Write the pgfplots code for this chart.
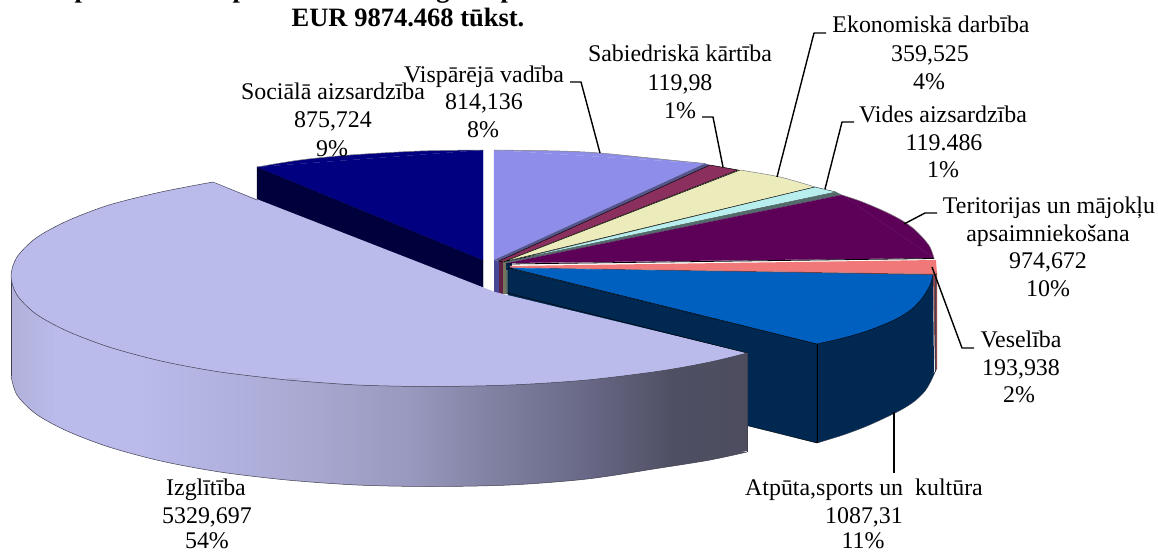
\documentclass[border=0pt]{standalone}
\usepackage{pgfplots}
\usepackage{pgfplotstable}
\usepackage{fontspec}
\setmainfont{Liberation Serif}
\pgfplotsset{compat=1.18}
\definecolor{cLight}{HTML}{BBBBEB}
\definecolor{cPeri}{HTML}{8E8EEA}
\definecolor{cMaroon}{HTML}{8B2F5F}
\definecolor{cCream}{HTML}{EBEBBC}
\definecolor{cCyan}{HTML}{B8EEEE}
\definecolor{cPurple}{HTML}{5C0058}
\definecolor{cSalmon}{HTML}{F07878}
\definecolor{cBlue}{HTML}{0060C0}
\definecolor{cDark}{HTML}{002850}
\definecolor{cNavy}{HTML}{000080}
\definecolor{cNavyS}{HTML}{00003C}
\definecolor{cEdge}{HTML}{404050}
\pgfdeclarehorizontalshading{izgside}{100bp}{
  rgb(0bp)=(.69,.69,.85);
  rgb(25bp)=(.69,.69,.85);
  rgb(28bp)=(.73,.73,.92);
  rgb(34bp)=(.73,.73,.92);
  rgb(39bp)=(.70,.70,.88);
  rgb(45bp)=(.66,.66,.82);
  rgb(52bp)=(.60,.60,.75);
  rgb(58bp)=(.50,.50,.63);
  rgb(64bp)=(.41,.41,.53);
  rgb(70bp)=(.31,.31,.39);
  rgb(75bp)=(.30,.30,.37);
  rgb(100bp)=(.30,.30,.37)}
\pgfplotstableread{
x y
257 167
300 160
350 155
420 151
483 150
}\arcNavy
\pgfplotstableread{
x y
494 150
560 151
600 153
650 158
705 163.5
}\arcPeri
\pgfplotstableread{
x y
740 170
780 177
815 187
}\arcCream
\pgfplotstableread{
x y
842 195
860 201
877 208
890 214
903 221
914 229
923 238
930 247
934 258
}\arcPurple
\pgfplotstableread{
x y
933 275
930 285
923 297
913 308
900 317
885 324
867 331
843 338
817 344
}\arcBlue
\pgfplotstableread{
x y
935 372
931 381
925 391
916 400
906 407
893 414
867 426
843 435
817 443
}\arcAtp
\pgfplotstableread{
x y
213 182
161 192
109 205
67 221
36 238
17 257
11 276
17 295
36 314
67 331
109 347
161 361
220 372
287 380
}\arcIzgA
\pgfplotstableread{
x y
287 380
357 385
430 386.5
510 385
587 380
660 371
710 362
747 353
}\arcIzgB
\pgfplotstableread{
x y
11 376
17 395
36 414
67 431
109 447
161 461
220 472
287 480
357 485
430 486.5
510 485
587 479
660 468
710 460
747 452
}\arcIzgC
\newcommand{\lab}[3]{\node[anchor=base,inner sep=0pt,font=\fontsize{23.9pt}{27.4pt}\selectfont] at (axis cs:#1,#2) {#3};}
\newcommand{\labb}[3]{\node[anchor=base,inner sep=0pt,font=\fontsize{26.5pt}{29pt}\selectfont\bfseries] at (axis cs:#1,#2) {#3};}
\begin{document}
\begin{tikzpicture}[x=1pt,y=1pt]
\useasboundingbox (0,0) rectangle (1158pt,551pt);
\clip (0,0) rectangle (1158pt,551pt);
\begin{axis}[
  at={(0,0)},anchor=south west,
  hide axis,scale only axis,width=1158pt,height=551pt,
  xmin=0,xmax=1158,ymin=0,ymax=551,y dir=reverse,clip=false,no markers,
  every axis plot/.append style={line join=round},
]
% Sociala aizsardziba
\addplot[fill=cNavyS,draw=black,line width=.4pt] coordinates {(257,167)(483,260)(483,290)(257,202)(257,167)};
\addplot[fill=cNavy,draw=none,smooth] table {\arcNavy};
\addplot[fill=cNavy,draw=cNavy,line width=.2pt] coordinates {(257,167)(483,150)(483,260)(257,167)};
\addplot[draw=gray,line width=.5pt,smooth] table {\arcNavy};
% slivers at the centre
\addplot[fill=cNavyS!50!cPeri,draw=none] coordinates {(494,260)(499,261)(499,294)(494,294)};
\addplot[fill=cMaroon!70!black,draw=none] coordinates {(499,261)(503,261)(503,294)(499,294)};
\addplot[fill=cCream!50!black,draw=none] coordinates {(503,261)(506,261)(506,294)(503,294)};
\addplot[fill=cCyan!45!black,draw=none] coordinates {(506,261)(509,261)(509,294)(506,294)};
\addplot[fill=cDark,draw=none] coordinates {(506,263)(512,263)(512,270)(506,270)};
% Visparejaa vadiba
\addplot[fill=cPeri,draw=none,smooth] table {\arcPeri};
\addplot[fill=cPeri,draw=cPeri,line width=.2pt] coordinates {(494,150)(705,163.5)(494,260)(494,150)};
\addplot[draw=gray,line width=.5pt,smooth] table {\arcPeri};
\addplot[fill=cPeri!60!black,draw=none] coordinates {(494,260)(705,163.5)(710,165)(499,261)};
% Sabiedriska kartiba
\addplot[fill=cMaroon,draw=black,line width=.5pt] coordinates {(499,261)(710,165)(738,170)(503,262)(499,261)};
% Ekonomiska
\addplot[fill=cCream,draw=none,smooth] table {\arcCream};
\addplot[fill=cCream,draw=cCream,line width=.2pt] coordinates {(740,170)(815,187)(503,262)(740,170)};
\addplot[draw=black,line width=.5pt] coordinates {(740,170)(503,262)(815,187)};
\addplot[draw=gray,line width=.5pt,smooth] table {\arcCream};
% Vides
\addplot[fill=cCyan,draw=black,line width=.3pt] coordinates {(505,262)(815,187)(836,192)(505,262)};
\addplot[fill=cCyan!45!black,draw=none] coordinates {(505,262)(836,192)(842,195)(508,263)};
% Teritorijas
\addplot[fill=cPurple,draw=none,smooth] table {\arcPurple};
\addplot[fill=cPurple,draw=cPurple,line width=.2pt] coordinates {(842,195)(934,258)(508,263)(842,195)};
\addplot[draw=black,line width=.8pt] coordinates {(508,264)(934,258.5)};
\addplot[draw=gray,line width=.5pt,smooth] table {\arcPurple};
% Veseliba
\addplot[fill=cSalmon,draw=none] coordinates {(510,266)(936,260)(937,274)(510,267.5)};
\addplot[fill=cSalmon!50!black,draw=none] coordinates {(510,267.5)(937,274)(933,276)(510,268)};
% Atputa: side faces
\addplot[fill=cSalmon!60!black,draw=none] coordinates {(933,275)(937,273)(937,369)(935,372)};
\addplot[fill=cDark,draw=black,line width=.4pt] coordinates {(508,268)(817,344)(817,443)(508,366)(508,268)};
\addplot[fill=cDark,draw=none] coordinates {(933,275)(817,344)(817,443)(867,425)(906,406)(934,372)};
\addplot[fill=cDark,draw=none,smooth] table {\arcAtp};
\addplot[draw=cEdge,line width=.4pt,smooth] table {\arcAtp};
\addplot[draw=black,line width=.4pt] coordinates {(817,344)(817,443)};
\addplot[draw=cEdge,line width=.4pt] coordinates {(935,276)(935,372)};
% Atputa: top
\addplot[fill=cBlue,draw=none,smooth] table {\arcBlue};
\addplot[fill=cBlue,draw=cBlue,line width=.2pt] coordinates {(933,275)(817,344)(510,268)(933,275)};
\addplot[draw=black,line width=.5pt] coordinates {(510,268)(817,344)};
\addplot[draw=black,line width=.4pt,smooth] table {\arcBlue};
% Izglitiba: side
\addplot[shading=izgside,draw=none] coordinates {(11,275)(747,353)(747,451)(587,477)(430,484)(287,478)(109,445)(36,412)(11,375)};
\addplot[shading=izgside,draw=none,smooth] table {\arcIzgC};
\addplot[draw=cEdge,line width=.5pt,smooth] table {\arcIzgC};
\addplot[draw=cEdge,line width=.5pt] coordinates {(747,353)(747,452)};
\addplot[draw=cEdge,line width=.5pt] coordinates {(11,276)(11,376)};
% Izglitiba: top
\addplot[fill=cLight,draw=none,smooth] table {\arcIzgA};
\addplot[fill=cLight,draw=none,smooth] table {\arcIzgB};
\addplot[fill=cLight,draw=none] coordinates {(213,182)(495,292)(747,353)(587,378)(430,384)(287,378)(109,345)(36,312)(13,276)(36,240)(109,207)};
\addplot[draw=cEdge,line width=.5pt,smooth] table {\arcIzgA};
\addplot[draw=cEdge,line width=.5pt,smooth] table {\arcIzgB};
\addplot[draw=cEdge,line width=.4pt] coordinates {(213,182)(257,200)};
\addplot[draw=black,line width=.4pt] coordinates {(507,293)(747,353)};
% leaders
\addplot[draw=black,line width=1.4pt] coordinates {(570,82)(581,82)(600,153)};
\addplot[draw=black,line width=1.4pt] coordinates {(702,117)(713,117)(723,167)};
\addplot[draw=black,line width=1.4pt] coordinates {(826,33)(814,33)(777,177)};
\addplot[draw=black,line width=1.4pt] coordinates {(854,122)(842,122)(825,189)};
\addplot[draw=black,line width=1.4pt] coordinates {(937,213)(925,213)(904,224)};
\addplot[draw=black,line width=1.4pt] coordinates {(974,348)(962,348)(932,267)};
\addplot[draw=black,line width=1.4pt] coordinates {(894,412)(894,473)};
% labels
\lab{333}{99}{Sociālā aizsardzība}
\lab{333}{127}{875,724}
\lab{332}{156}{9\%}
\lab{484}{82}{Vispārējā vadība}
\lab{484}{109}{814,136}
\lab{483}{137}{8\%}
\lab{680}{62}{Sabiedriskā kārtība}
\lab{680}{90}{119,98}
\lab{680}{118}{1\%}
\lab{931}{33}{Ekonomiskā darbība}
\lab{930}{62}{359,525}
\lab{929}{89}{4\%}
\lab{943}{122}{Vides aizsardzība}
\lab{944}{150}{119.486}
\lab{943}{177}{1\%}
\lab{1049}{213}{Teritorijas un mājokļu}
\lab{1048}{241}{apsaimniekošana}
\lab{1048}{268}{974,672}
\lab{1048}{296}{10\%}
\lab{1021}{347}{Veselība}
\lab{1021}{375}{193,938}
\lab{1019}{402}{2\%}
\lab{864}{495}{Atpūta,sports un~ kultūra}
\lab{864}{523}{1087,31}
\lab{863}{548.5}{11\%}
\lab{206}{495}{Izglītība}
\lab{207}{523}{5329,697}
\lab{207}{548.5}{54\%}
\labb{408}{27}{EUR 9874.468 tūkst.}
\labb{82}{-2.3}{p}
\labb{240}{-2.3}{p}
\labb{443}{-2.3}{g}
\labb{508}{-2.3}{p}
\end{axis}
\end{tikzpicture}
\end{document}
